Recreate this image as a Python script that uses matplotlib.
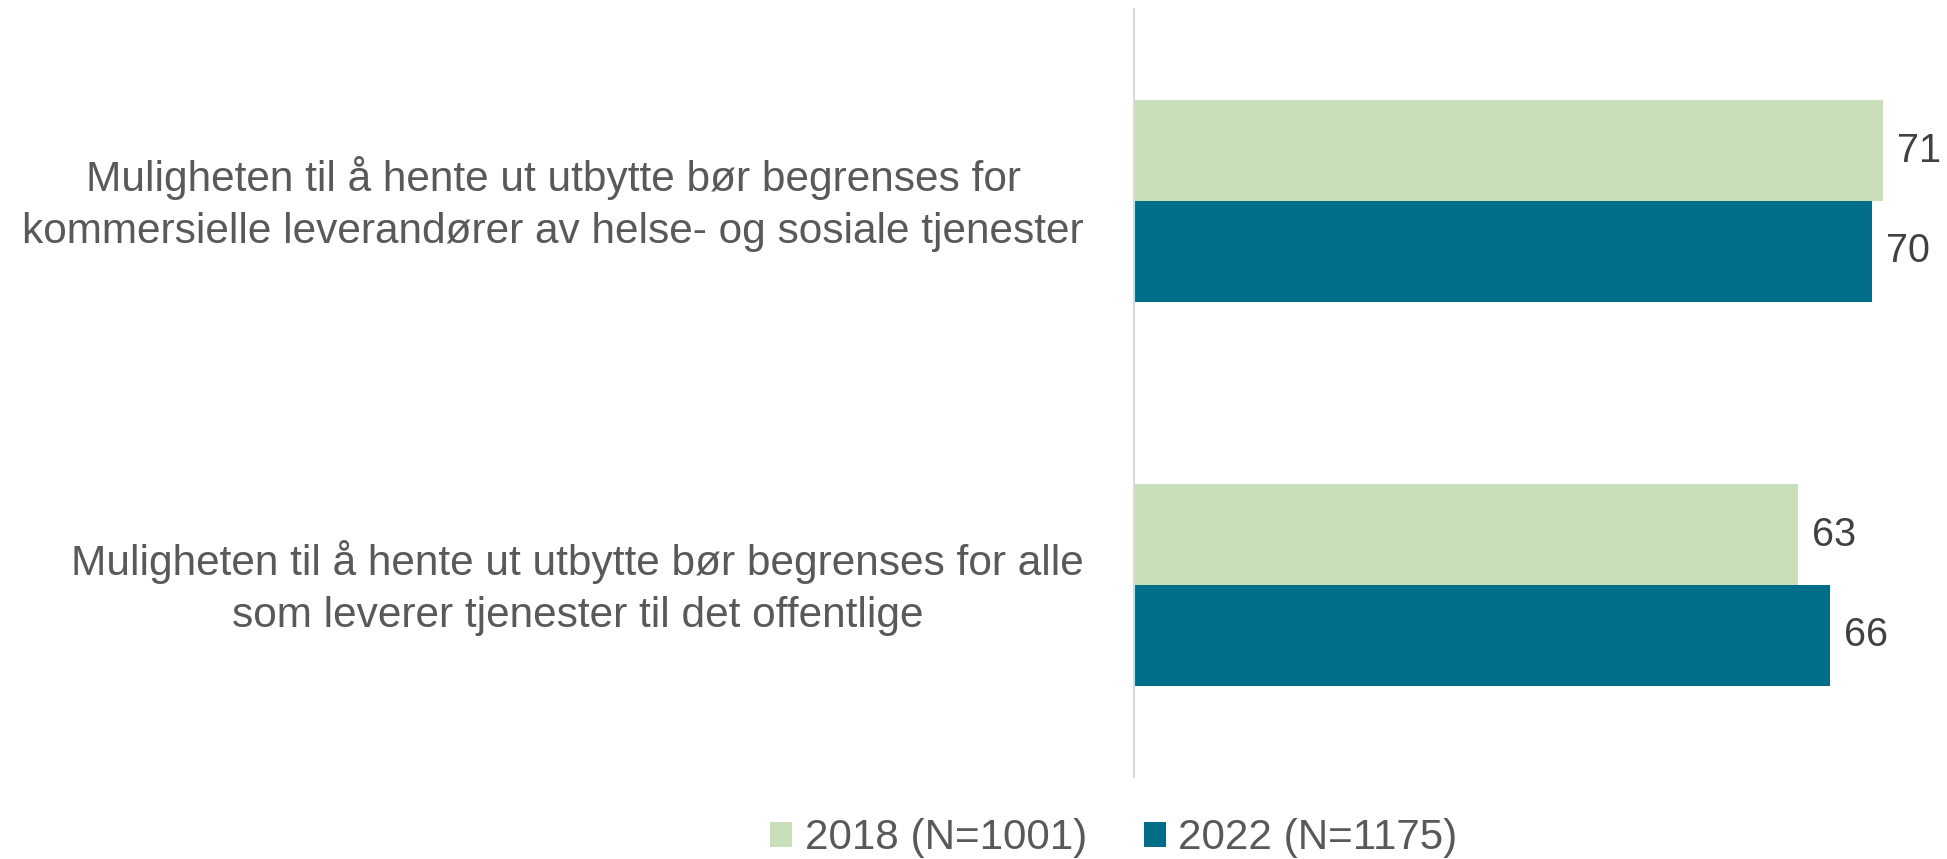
import numpy as np
import matplotlib.pyplot as plt
import matplotlib.transforms as mtransforms

# Data
categories = [
    'Muligheten til å hente ut utbytte bør begrenses for\nkommersielle leverandører av helse- og sosiale tjenester',
    'Muligheten til å hente ut utbytte bør begrenses for alle\nsom leverer tjenester til det offentlige',
]
series_names = ['2018 (N=1001)', '2022 (N=1175)']
values_2018 = [71, 63]
values_2022 = [70, 66]
colors = ['#C8DFBA', '#006E88']

plt.rcParams['font.family'] = ['Liberation Sans', 'DejaVu Sans']

fig = plt.figure(figsize=(19.47, 8.59), dpi=100)
ax = fig.add_axes([1134 / 1947, (859 - 777) / 859, 1 - 1134 / 1947 - 0.0005, 768 / 859])

y = np.arange(len(categories))
h = 0.263
b1 = ax.barh(y - h / 2, values_2018, height=h, color=colors[0], label=series_names[0])
b2 = ax.barh(y + h / 2, values_2022, height=h, color=colors[1], label=series_names[1])

ax.bar_label(b1, padding=10, fontsize=28.5, color='#404040')
ax.bar_label(b2, padding=10, fontsize=28.5, color='#404040')

ax.set_ylim(1.5, -0.5)
ax.set_xlim(0, 77)
ax.set_yticks(y)
ax.set_yticklabels(categories, fontsize=30.5, color='#595959', multialignment='center',
                   linespacing=1.4)
ax.tick_params(axis='y', length=0, pad=36)
ax.set_xticks([])

# nudge the category labels up a bit
offset = mtransforms.ScaledTranslation(0, 8 / 100, fig.dpi_scale_trans)
for lbl in ax.get_yticklabels():
    lbl.set_transform(lbl.get_transform() + offset)

for s in ['top', 'right', 'bottom']:
    ax.spines[s].set_visible(False)
ax.spines['left'].set_color('#D9D9D9')
ax.spines['left'].set_linewidth(1.5)

leg = fig.legend(loc='center', bbox_to_anchor=(1114 / 1947, 0.024), ncol=2, frameon=False,
                 fontsize=30.3, handlelength=0.52, handleheight=0.55, handletextpad=0.3,
                 columnspacing=1.35)
for t in leg.get_texts():
    t.set_color('#595959')

fig.savefig('out.png', dpi=100)
